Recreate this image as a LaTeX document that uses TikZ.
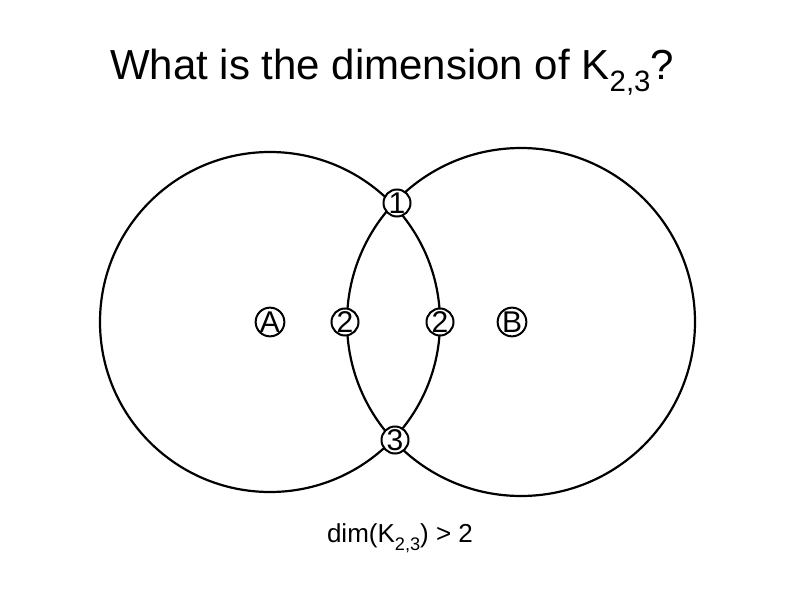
\documentclass[tikz,border=0pt]{standalone}
\usepackage{fontspec}
\setmainfont{Liberation Sans}
\newcommand{\mysub}[1]{\raisebox{-0.55ex}{\scalebox{0.7}{#1}}}
\begin{document}
\begin{tikzpicture}[x=1pt,y=-1pt,
  vtx/.style={circle,draw,line width=2pt,fill=white,inner sep=0pt,minimum size=27pt,font=\fontsize{30}{30}\selectfont}]
\useasboundingbox (0,0) rectangle (792,612);
\node (title) at (392,72) {\fontsize{42}{42}\selectfont What is the dimension of K\mysub{2,3}?};
\draw[line width=2.2pt] (270,322) circle (170);
\draw[line width=2.2pt] (521,322) circle (174);
\node[vtx] (v1) at (397,203) {1};
\node[vtx] (v3) at (395,440) {3};
\node[vtx] (a) at (270,322) {A};
\node[vtx] (l2) at (345,322) {2};
\node[vtx] (r2) at (440,322) {2};
\node[vtx] (b) at (512,322) {B};
\node (cap) at (400,538) {\fontsize{26}{26}\selectfont dim(K\mysub{2,3}) > 2};
\end{tikzpicture}
\end{document}
